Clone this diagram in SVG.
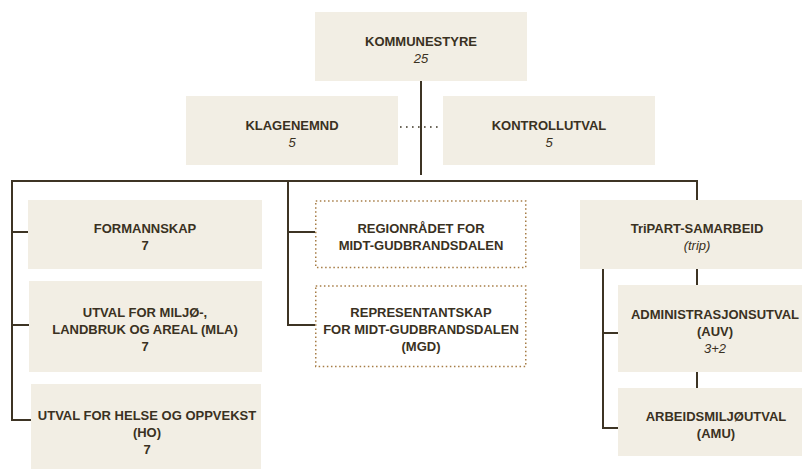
<svg xmlns="http://www.w3.org/2000/svg" width="802" height="469" viewBox="0 0 802 469">
<style>
.box{fill:#f2eee4;stroke:none}
.dbox{fill:none;stroke:#a67c45;stroke-width:1.5;stroke-dasharray:1.5 2.6}
.t{font-family:"Liberation Sans",Arial,sans-serif;font-size:13px;font-weight:bold;fill:#3a3122;text-anchor:middle}
.i{font-weight:normal;font-style:italic}
.c{stroke:#3d3424;stroke-width:2;fill:none}
.dot{stroke:#3d3424;stroke-width:1.6;stroke-dasharray:1.6 4.4;fill:none}
</style>
<rect width="802" height="469" fill="#ffffff"/>
<g id="connectors">
<path class="c" d="M421 81V175"/>
<path class="c" d="M11 181H698"/>
<path class="c" d="M12 180V420M11 232H28M11 325H29M11 420H31"/>
<path class="c" d="M288 180V326M288 232H315M288 325H315"/>
<path class="c" d="M697 180V200"/>
<path class="c" d="M603 269V429M603 333H618M603 428H618"/>
<path class="c" d="M697 269V285M697 372V388"/>
<path class="dot" d="M400 127H442"/>
</g>
<g id="kommunestyre">
<rect class="box" x="315" y="12" width="212" height="69"/>
<text class="t" x="421" y="46">KOMMUNESTYRE</text>
<text class="t i" x="421" y="63">25</text>
</g>
<g id="klagenemnd">
<rect class="box" x="186" y="96" width="212" height="69"/>
<text class="t" x="292" y="130">KLAGENEMND</text>
<text class="t i" x="292" y="147">5</text>
</g>
<g id="kontrollutval">
<rect class="box" x="443" y="96" width="212" height="69"/>
<text class="t" x="549" y="130">KONTROLLUTVAL</text>
<text class="t i" x="549" y="147">5</text>
</g>
<g id="formannskap">
<rect class="box" x="28" y="200" width="234" height="69"/>
<text class="t" x="145" y="233">FORMANNSKAP</text>
<text class="t" x="145" y="250">7</text>
</g>
<g id="mla">
<rect class="box" x="29" y="281" width="233" height="91"/>
<text class="t" x="145" y="317">UTVAL FOR MILJØ-,</text>
<text class="t" x="145" y="334">LANDBRUK OG AREAL (MLA)</text>
<text class="t" x="145" y="351">7</text>
</g>
<g id="ho">
<rect class="box" x="31" y="384" width="230" height="85"/>
<text class="t" x="147" y="420">UTVAL FOR HELSE OG OPPVEKST</text>
<text class="t" x="147" y="437">(HO)</text>
<text class="t" x="147" y="454">7</text>
</g>
<g id="regionradet">
<rect class="dbox" x="315.75" y="201" width="210" height="66.5"/>
<text class="t" x="421" y="233">REGIONRÅDET FOR</text>
<text class="t" x="421" y="250">MIDT-GUDBRANDSDALEN</text>
</g>
<g id="representantskap">
<rect class="dbox" x="315.75" y="286" width="210" height="80.5"/>
<text class="t" x="421" y="317">REPRESENTANTSKAP</text>
<text class="t" x="421" y="334">FOR MIDT-GUDBRANDSDALEN</text>
<text class="t" x="421" y="351">(MGD)</text>
</g>
<g id="tripart">
<rect class="box" x="580" y="200" width="222" height="69"/>
<text class="t" x="697" y="233">TriPART-SAMARBEID</text>
<text class="t i" x="697" y="250">(trip)</text>
</g>
<g id="auv">
<rect class="box" x="618" y="285" width="184" height="87"/>
<text class="t" x="715" y="319">ADMINISTRASJONSUTVAL</text>
<text class="t" x="715" y="336">(AUV)</text>
<text class="t i" x="715" y="353">3+2</text>
</g>
<g id="amu">
<rect class="box" x="618" y="388" width="184" height="68"/>
<text class="t" x="716" y="421">ARBEIDSMILJØUTVAL</text>
<text class="t" x="716" y="438">(AMU)</text>
</g>
</svg>
